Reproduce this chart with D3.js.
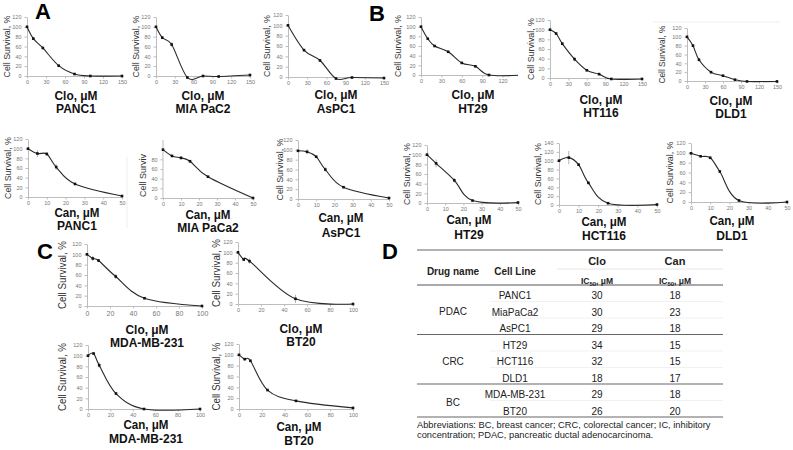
<!DOCTYPE html>
<html><head><meta charset="utf-8">
<script src="https://cdn.jsdelivr.net/npm/d3@7"></script>
<style>body{margin:0;background:#fff} svg{display:block}</style>
</head><body><svg id="c" width="793" height="450"></svg>
<script>
// ---------- tick labels ----------
const cloTicks = [0,30,60,90,120,150];
const canTicks = [0,10,20,30,40,50];
const bcTicks = [0,20,40,60,80,100];
const survTicks = [0,20,40,60,80,100,120];
const survTicks140 = [0,20,40,60,80,100,120,140];
const survTicksCut = [0,20,40,60,80];

// ---------- Panel A (PDAC) ----------
const panc1CloDose = [0,10,25,50,75,100,150];
const panc1CloSurv = [100,76,57,21,4,0,0];
const panc1CloErr  = [0,3,3,2,1,0,0];
const miaCloDose = [0,10,25,50,75,100,150];
const miaCloSurv = [100,78,64,-3,0,-1,2];
const miaCloErr  = [0,3,5,2,1,1,1];
const aspc1CloDose = [0,25,50,75,100,150];
const aspc1CloSurv = [100,52,32,-3,-1,-2];
const aspc1CloErr  = [0,2,2,1,1,1];
const panc1CanDose = [0,5,10,15,25,50];
const panc1CanSurv = [100,90,89,62,27,2];
const panc1CanErr  = [0,7,4,6,2,1];
const miaCanDose = [0,5,10,15,25,50];
const miaCanSurv = [100,87,83,76,44,0];
const miaCanErr  = [0,3,4,3,2,1];
const aspc1CanDose = [0,5,10,15,25,50];
const aspc1CanSurv = [98,96,86,60,24,2];
const aspc1CanErr  = [0,5,2,5,2,1];

// ---------- Panel B (CRC) ----------
const ht29CloDose = [0,10,20,40,60,80,100,150];
const ht29CloSurv = [100,75,60,48,25,18,0,0];
const ht29CloErr  = [0,2,2,2,2,2,1,0];
const hct116CloDose = [0,10,20,40,60,80,100,150];
const hct116CloSurv = [100,92,71,39,16,8,-2,-2];
const hct116CloErr  = [0,2,3,5,2,2,1,1];
const dld1CloDose = [0,10,20,40,60,80,100,150];
const dld1CloSurv = [100,80,48,20,12,3,-1,-1];
const dld1CloErr  = [0,3,2,2,1,1,1,0];
const ht29CanDose = [0,5,15,25,50];
const ht29CanSurv = [100,82,47,5,1];
const ht29CanErr  = [0,8,5,1,0];
const hct116CanDose = [0,5,10,15,25,50];
const hct116CanSurv = [100,107,91,50,4,1];
const hct116CanErr  = [0,15,3,3,1,0];
const dld1CanDose = [0,5,10,15,25,50];
const dld1CanSurv = [99,93,90,62,3,0];
const dld1CanErr  = [0,2,2,3,1,0];

// ---------- Panel C (BC) ----------
const mdaCloDose = [0,5,10,25,50,100];
const mdaCloSurv = [100,92,88,57,15,0];
const mdaCloErr  = [0,5,3,5,1,0];
const bt20CloDose = [0,5,10,50,100];
const bt20CloSurv = [100,86,83,10,0];
const bt20CloErr  = [0,2,5,8,0];
const mdaCanDose = [0,5,10,25,50,100];
const mdaCanSurv = [100,104,82,29,0,0];
const mdaCanErr  = [0,2,5,2,1,0];
const bt20CanDose = [0,5,10,25,50,100];
const bt20CanSurv = [100,92,89,35,15,2];
const bt20CanErr  = [0,2,2,2,1,1];

// ---------- Panel D (table) ----------
const drugGroups = ["PDAC","CRC","BC"];
const groupRows = [[0,2],[3,5],[6,7]];
const cellLines = ["PANC1","MiaPaCa2","AsPC1","HT29","HCT116","DLD1","MDA-MB-231","BT20"];
const cloIC50 = [30,30,29,34,32,18,29,26];
const canIC50 = [18,23,18,15,15,17,18,20];
const abbrevLines = ["Abbreviations: BC, breast cancer; CRC, colorectal cancer; IC, inhibitory",
                     "concentration; PDAC, pancreatic ductal adenocarcinoma."];

const svg = d3.select('#c');
const FONT = "'Liberation Sans', Arial, sans-serif";
const defs = svg.append('defs');

function panel(p, idx) {
  const g = svg.append('g');
  const x = d3.scaleLinear().domain([0, p.xMax]).range([p.x0, p.x1]);
  const y = d3.scaleLinear().domain([0, p.yMax]).range([p.yB, p.yT]);
  const plot = g.append('g');
  if (p.clipX) {
    defs.append('clipPath').attr('id','clip'+idx).append('rect')
      .attr('x',0).attr('y',0).attr('width',p.clipX).attr('height',450);
    plot.attr('clip-path','url(#clip'+idx+')');
  }
  const ya = plot.append('g').attr('transform',`translate(${p.x0},0)`)
    .call(d3.axisLeft(y).tickValues(p.yTicks).tickSize(2.5).tickSizeOuter(0).tickPadding(3));
  const xa = plot.append('g').attr('transform',`translate(0,${y(0)})`)
    .call(d3.axisBottom(x).tickValues(p.xTicks).tickSize(2.5).tickSizeOuter(0).tickPadding(p.xPad||2));
  [ya, xa].forEach(a => {
    a.select('.domain').attr('stroke','#bdbdbd');
    a.selectAll('.tick line').attr('stroke','#bdbdbd');
    a.selectAll('.tick text').attr('fill','#777').attr('font-family',FONT);
  });
  ya.selectAll('.tick text').attr('font-size', p.ytf || 5.5);
  xa.selectAll('.tick text').attr('font-size', p.xtf || 5.5);
  if (p.yAxisTop) ya.select('.domain').attr('d', `M0,${y(p.yAxisTop)}V${y(0)}`);

  const pts = p.dose.map((d,i) => ({d, s:p.surv[i], e:p.err[i]}));
  plot.selectAll('line.err').data(pts.filter(q => q.e > 0)).join('line')
    .attr('x1', q => x(q.d)).attr('x2', q => x(q.d))
    .attr('y1', q => y(q.s + q.e)).attr('y2', q => y(q.s - q.e))
    .attr('stroke','#aaa').attr('stroke-width',0.9);
  plot.append('path').datum(pts)
    .attr('d', d3.line().x(q => x(q.d)).y(q => y(q.s)).curve(d3.curveCardinal.tension(0)))
    .attr('fill','none').attr('stroke','#2a2a2a').attr('stroke-width',1.1);
  plot.selectAll('rect.m').data(pts).join('rect')
    .attr('x', q => x(q.d) - 1.3).attr('y', q => y(q.s) - 1.3)
    .attr('width',2.6).attr('height',2.6).attr('fill','#111');

  const ylab = g.append('text')
    .attr('transform', `translate(${p.ylx},${p.ylY !== undefined ? p.ylY : (p.yT + p.yB)/2}) rotate(-90)`)
    .attr('text-anchor', p.ylAnchor || 'middle')
    .attr('font-family', FONT).attr('font-size', p.ylSize || 9).attr('fill','#333')
    .text(p.ylText || 'Cell Survival, %');
  if (p.ylLen) ylab.attr('textLength', p.ylLen).attr('lengthAdjust','spacingAndGlyphs');
  g.append('text').attr('x', p.lx).attr('y', p.l1y).attr('text-anchor','middle')
    .attr('font-family', FONT).attr('font-weight','bold').attr('font-size', 13).attr('fill','#111')
    .attr('textLength', p.drugW || 43).attr('lengthAdjust','spacingAndGlyphs')
    .text(p.drug + ', μM');
  g.append('text').attr('x', p.lx).attr('y', p.l2y).attr('text-anchor','middle')
    .attr('font-family', FONT).attr('font-weight','bold').attr('font-size', 12).attr('fill','#111')
    .text(p.name);
}

const panels = [
  // A top
  {dose:panc1CloDose, surv:panc1CloSurv, err:panc1CloErr, xMax:150, xTicks:cloTicks, yMax:120, yTicks:survTicks,
   x0:27, x1:122, yT:17, yB:76, ylx:10, ylLen:62, lx:76, l1y:100, l2y:113, drug:'Clo', name:'PANC1'},
  {dose:miaCloDose, surv:miaCloSurv, err:miaCloErr, xMax:150, xTicks:cloTicks, yMax:120, yTicks:survTicks,
   x0:156, x1:250, yT:17, yB:76, ylx:139, ylLen:62, lx:203, l1y:100, l2y:113, drug:'Clo', name:'MIA PaC2'},
  {dose:aspc1CloDose, surv:aspc1CloSurv, err:aspc1CloErr, xMax:150, xTicks:cloTicks, yMax:120, yTicks:survTicks,
   x0:288, x1:384, yT:15, yB:77, ylx:270, ylLen:62, lx:336, l1y:99, l2y:113, drug:'Clo', name:'AsPC1'},
  // B top
  {dose:ht29CloDose, surv:ht29CloSurv, err:ht29CloErr, xMax:150, xTicks:cloTicks, yMax:120, yTicks:survTicks,
   x0:421, x1:523, yT:17, yB:75, ylx:401, ylLen:62, lx:473, l1y:99, l2y:113, drug:'Clo', name:'HT29', clipX:518},
  {dose:hct116CloDose, surv:hct116CloSurv, err:hct116CloErr, xMax:150, xTicks:cloTicks, yMax:120, yTicks:survTicks,
   x0:550, x1:642, yT:20, yB:78, ylx:534, ylLen:62, lx:601, l1y:104, l2y:117, drug:'Clo', name:'HT116'},
  {dose:dld1CloDose, surv:dld1CloSurv, err:dld1CloErr, xMax:150, xTicks:cloTicks, yMax:120, yTicks:survTicks,
   x0:687, x1:777, yT:28, yB:81, ylx:665, ylLen:58, lx:731, l1y:105, l2y:118, drug:'Clo', name:'DLD1'},
  // A bottom
  {dose:panc1CanDose, surv:panc1CanSurv, err:panc1CanErr, xMax:50, xTicks:canTicks, yMax:120, yTicks:survTicks, xPad:1.5,
   x0:28, x1:122, yT:139, yB:197, ylx:11, ylLen:62, lx:77, l1y:217, l2y:230, drug:'Can', name:'PANC1', drugW:45},
  {dose:miaCanDose, surv:miaCanSurv, err:miaCanErr, xMax:50, xTicks:canTicks, yMax:120, yTicks:survTicksCut, yAxisTop:120, xPad:1.5,
   x0:163, x1:253, yT:140, yB:198, ylx:146, ylY:197, ylAnchor:'start', ylText:'Cell Surviv', lx:208, l1y:219, l2y:232, drug:'Can', name:'MIA PaCa2', drugW:45},
  {dose:aspc1CanDose, surv:aspc1CanSurv, err:aspc1CanErr, xMax:50, xTicks:canTicks, yMax:120, yTicks:survTicks,
   x0:298, x1:389, yT:140, yB:199, ylx:283, ylLen:62, lx:341, l1y:222, l2y:237, drug:'Can', name:'AsPC1', drugW:45},
  // B bottom
  {dose:ht29CanDose, surv:ht29CanSurv, err:ht29CanErr, xMax:50, xTicks:canTicks, yMax:120, yTicks:survTicks,
   x0:427, x1:518, yT:145, yB:203, ylx:410, ylLen:62, lx:469, l1y:224, l2y:239, drug:'Can', name:'HT29', drugW:45},
  {dose:hct116CanDose, surv:hct116CanSurv, err:hct116CanErr, xMax:50, xTicks:canTicks, yMax:140, yTicks:survTicks140,
   x0:559, x1:657, yT:143, yB:205, ylx:541, ylLen:62, lx:604, l1y:226, l2y:240, drug:'Can', name:'HCT116', drugW:45},
  {dose:dld1CanDose, surv:dld1CanSurv, err:dld1CanErr, xMax:50, xTicks:canTicks, yMax:120, yTicks:survTicks,
   x0:691, x1:787, yT:143, yB:202, ylx:673, ylLen:62, lx:732, l1y:225, l2y:240, drug:'Can', name:'DLD1', drugW:45},
  // C
  {dose:mdaCloDose, surv:mdaCloSurv, err:mdaCloErr, xMax:100, xTicks:bcTicks, yMax:120, yTicks:survTicks,
   x0:87, x1:202, yT:244, yB:306, ylx:66, ylLen:68, ylSize:10.5, xtf:7, xPad:3, lx:147, l1y:334, l2y:347, drug:'Clo', name:'MDA-MB-231'},
  {dose:bt20CloDose, surv:bt20CloSurv, err:bt20CloErr, xMax:100, xTicks:bcTicks, yMax:120, yTicks:survTicks,
   x0:238, x1:353, yT:242, yB:304, ylx:220, ylLen:68, ylSize:10.5, lx:301, l1y:333, l2y:346, drug:'Clo', name:'BT20'},
  {dose:mdaCanDose, surv:mdaCanSurv, err:mdaCanErr, xMax:100, xTicks:bcTicks, yMax:120, yTicks:survTicks,
   x0:88, x1:200, yT:345, yB:409, ylx:66, ylLen:68, ylSize:10.5, lx:146, l1y:429, l2y:443, drug:'Can', name:'MDA-MB-231', drugW:45},
  {dose:bt20CanDose, surv:bt20CanSurv, err:bt20CanErr, xMax:100, xTicks:bcTicks, yMax:120, yTicks:survTicks,
   x0:239, x1:353, yT:344, yB:409, ylx:220, ylLen:68, ylSize:10.5, lx:299, l1y:431, l2y:445, drug:'Can', name:'BT20', drugW:45}
];

svg.append('line').attr('x1',653).attr('x2',780).attr('y1',22).attr('y2',22).attr('stroke','#eee');
svg.append('line').attr('x1',127).attr('x2',127).attr('y1',157).attr('y2',228).attr('stroke','#eee');

panels.forEach((p,i) => panel(p,i));

[['A',35,19],['B',369,21],['C',37,259],['D',382,259]].forEach(([t,x,y]) => {
  svg.append('text').attr('x',x).attr('y',y).attr('font-family',FONT).attr('font-weight','bold')
    .attr('font-size',22).attr('fill','#000').text(t);
});

// ---------- table ----------
const tb = svg.append('g').attr('font-family',FONT).attr('fill','#222');
const colX = {drug:453, cell:515, clo:597, can:675};
const tL = 417, tR = 723, headBot = 285, rowH = 16.5;
tb.append('line').attr('x1',tL).attr('x2',tR).attr('y1',250).attr('y2',250).attr('stroke','#999').attr('stroke-width',1.5);
tb.append('line').attr('x1',557).attr('x2',tR).attr('y1',269).attr('y2',269).attr('stroke','#e6e6e6');
tb.append('line').attr('x1',tL).attr('x2',tR).attr('y1',headBot).attr('y2',headBot).attr('stroke','#555').attr('stroke-width',1.2);
const hdr = (t,x,y,s) => tb.append('text').attr('x',x).attr('y',y).attr('text-anchor','middle')
  .attr('font-weight','bold').attr('font-size',s).text(t);
hdr('Drug name', colX.drug, 274.5, 10);
hdr('Cell Line', colX.cell, 274.5, 10);
hdr('Clo', colX.clo, 265, 11);
hdr('Can', colX.can, 265, 11);
[colX.clo, colX.can].forEach(cx => {
  const t = tb.append('text').attr('x',cx).attr('y',283.5).attr('text-anchor','middle')
    .attr('font-weight','bold').attr('font-size',8.5);
  t.append('tspan').text('IC');
  t.append('tspan').attr('font-size',6).attr('dy',2).text('50');
  t.append('tspan').attr('dy',-2).text(', μM');
});
cellLines.forEach((c,i) => {
  const by = headBot + rowH*i + 14;
  tb.append('text').attr('x',colX.cell).attr('y',by).attr('text-anchor','middle').attr('font-size',10).text(c);
  tb.append('text').attr('x',colX.clo).attr('y',by).attr('text-anchor','middle').attr('font-size',10).text(cloIC50[i]);
  tb.append('text').attr('x',colX.can).attr('y',by).attr('text-anchor','middle').attr('font-size',10).text(canIC50[i]);
  if (i < cellLines.length - 1) {
    const ly = headBot + rowH*(i+1);
    const isGroupEnd = groupRows.some(r => r[1] === i);
    tb.append('line').attr('x1', isGroupEnd ? tL : 490).attr('x2', tR).attr('y1', ly).attr('y2', ly)
      .attr('stroke', isGroupEnd ? '#666' : '#eee').attr('stroke-width', isGroupEnd ? 1.2 : 0.8);
  }
});
tb.append('line').attr('x1',tL).attr('x2',tR).attr('y1',headBot+rowH*8).attr('y2',headBot+rowH*8).attr('stroke','#666').attr('stroke-width',1.2);
drugGroups.forEach((gname,k) => {
  const [a,b] = groupRows[k];
  const cy = headBot + rowH*(a+b+1)/2 + 5.5;
  tb.append('text').attr('x',colX.drug).attr('y',cy).attr('text-anchor','middle').attr('font-size',10).text(gname);
});
abbrevLines.forEach((t,i) => {
  tb.append('text').attr('x',417).attr('y',428 + i*10).attr('font-size',9.3).text(t);
});
</script></body></html>
